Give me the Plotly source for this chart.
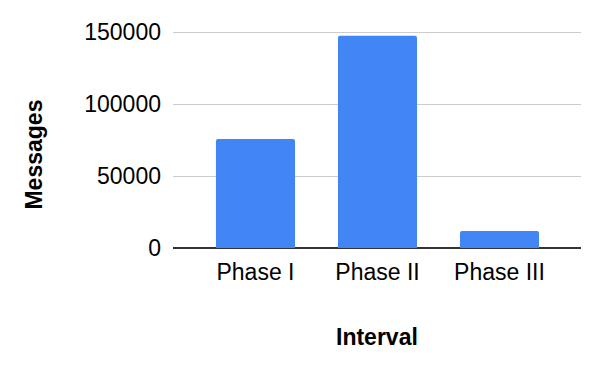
import plotly.graph_objects as go

# data
intervals = ['Phase I', 'Phase II', 'Phase III']
messages = [75700, 147400, 11800]
y_ticks = [0, 50000, 100000, 150000]

fig = go.Figure()
fig.add_trace(go.Bar(x=intervals, y=messages, marker_color='#4285F4',
                     marker_line_width=0, width=0.648))

# page body has an 8px margin, so figure is a bit smaller than the window
fig.update_layout(
    width=592, height=363,
    plot_bgcolor='white', paper_bgcolor='white',
    margin=dict(l=165, r=19, t=22, b=123, pad=0),
    font=dict(family='Arial, Liberation Sans, sans-serif', size=23, color='#000000'),
    showlegend=False,
    barcornerradius=2,
)

fig.update_xaxes(range=[-0.676, 2.668], showgrid=False, showline=False,
                 ticks='', ticklabelstandoff=8)
# top of range nudged up so the 150000 gridline is drawn inside the plot
fig.update_yaxes(range=[0, 151400], tickvals=y_ticks,
                 ticktext=[str(v) for v in y_ticks], showgrid=True,
                 gridcolor='#cccccc', gridwidth=1, zeroline=True,
                 zerolinecolor='#333333', zerolinewidth=2, showline=False,
                 ticks='', ticklabelstandoff=11)

# axis titles
fig.add_annotation(text='<b>Interval</b>', xref='paper', yref='paper',
                   x=0.5, y=-0.41, showarrow=False, yanchor='middle',
                   font=dict(size=23))
fig.add_annotation(text='<b>Messages</b>', xref='paper', yref='paper',
                   x=-0.34, y=0.43, showarrow=False, textangle=-90,
                   xanchor='center', yanchor='middle', font=dict(size=23))

fig.write_html("out.html")
